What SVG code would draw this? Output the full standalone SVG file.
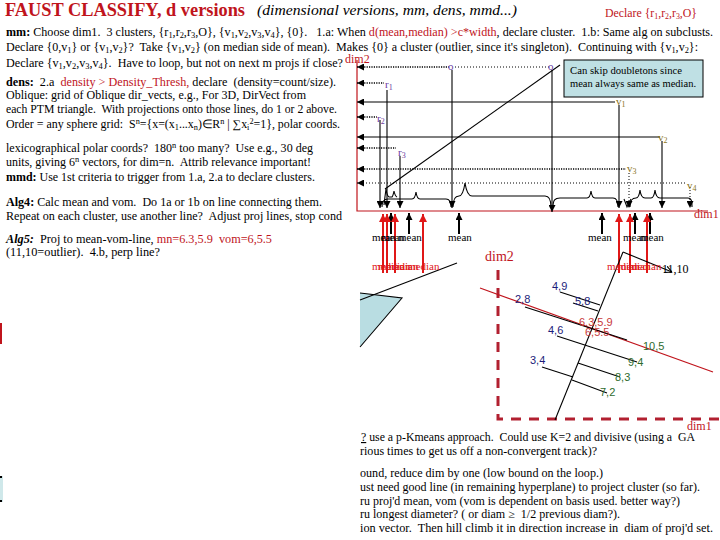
<svg xmlns="http://www.w3.org/2000/svg" width="720" height="540" viewBox="0 0 720 540">
<defs>
<style>
text{font-family:"Liberation Serif","Times New Roman",serif;white-space:pre}
.t{font-size:11.5px;fill:#000}
.r{fill:#c0141c}
.b{font-weight:bold}
.s{font-size:8px}
.pt{font-family:"Liberation Sans",Arial,sans-serif;font-size:11px}
.nv{fill:#1c1c7a}
.gr{fill:#2e6b2e}
.rd{fill:#c83a3a}
.pr{fill:#6a3aa0;font-size:11px}
.ol{fill:#8a7420;font-size:11px}
.ln{stroke:#000;fill:none;stroke-width:1.1}
.dot{stroke:#000;stroke-dasharray:1.2 1.2;stroke-width:1.6;fill:none}
.dot2{stroke:#000;stroke-dasharray:1 2;stroke-width:1;fill:none}
.red{stroke:#c0141c;fill:none;stroke-width:1.2}
.ra{stroke:#e01818;fill:none;stroke-width:2}
.ba{stroke:#000;fill:none;stroke-width:2}
.med{font-size:11px;fill:#e01818}
.mean{font-size:11px;fill:#000}
</style>
<marker id="ah" viewBox="0 0 10 10" refX="10" refY="5" markerWidth="7" markerHeight="7" orient="auto-start-reverse" markerUnits="userSpaceOnUse"><path d="M0,0L10,5L0,10z" fill="#000"/></marker>
<marker id="ahr" viewBox="0 0 10 10" refX="10" refY="5" markerWidth="8" markerHeight="8" orient="auto-start-reverse" markerUnits="userSpaceOnUse"><path d="M0,0L10,5L0,10z" fill="#e01818"/></marker>
<marker id="av" viewBox="0 0 10 10" refX="10" refY="5" markerWidth="7" markerHeight="7" orient="auto" markerUnits="userSpaceOnUse"><path d="M0,0L10,5L0,10" fill="none" stroke="#000" stroke-width="1.5"/></marker>
</defs>

<rect width="720" height="540" fill="#fff"/>

<g id="title">
<text x="5" y="16" font-size="19" font-weight="bold" fill="#c0141c" textLength="240" lengthAdjust="spacingAndGlyphs">FAUST CLASSIFY, d versions</text>
<text x="257" y="15" font-size="15" font-style="italic" fill="#000" textLength="260" lengthAdjust="spacingAndGlyphs">(dimensional versions, mm, dens, mmd...)</text>
<text x="605" y="17" font-size="12" fill="#c0141c" textLength="92" lengthAdjust="spacingAndGlyphs">Declare {r<tspan class="s" dy="2">1</tspan><tspan dy="-2">,r</tspan><tspan class="s" dy="2">2</tspan><tspan dy="-2">,r</tspan><tspan class="s" dy="2">3</tspan><tspan dy="-2">,O}</tspan></text>
</g>

<g id="notes-left">
<text class="t" x="6" y="36" textLength="707" lengthAdjust="spacingAndGlyphs"><tspan class="b">mm:</tspan> Choose dim1.  3 clusters, {r<tspan class="s" dy="2">1</tspan><tspan dy="-2">,r</tspan><tspan class="s" dy="2">2</tspan><tspan dy="-2">,r</tspan><tspan class="s" dy="2">3</tspan><tspan dy="-2">,O}, {v</tspan><tspan class="s" dy="2">1</tspan><tspan dy="-2">,v</tspan><tspan class="s" dy="2">2</tspan><tspan dy="-2">,v</tspan><tspan class="s" dy="2">3</tspan><tspan dy="-2">,v</tspan><tspan class="s" dy="2">4</tspan><tspan dy="-2">}, {0}.   1.a: When </tspan><tspan class="r">d(mean,median) &gt;c*width</tspan>, declare cluster.  1.b: Same alg on subclusts.</text>
<text class="t" x="6" y="51" textLength="692" lengthAdjust="spacingAndGlyphs">Declare {0,v<tspan class="s" dy="2">1</tspan><tspan dy="-2">} or {v</tspan><tspan class="s" dy="2">1</tspan><tspan dy="-2">,v</tspan><tspan class="s" dy="2">2</tspan><tspan dy="-2">}?  Take {v</tspan><tspan class="s" dy="2">1</tspan><tspan dy="-2">,v</tspan><tspan class="s" dy="2">2</tspan><tspan dy="-2">} (on median side of mean).  Makes {0} a cluster (outlier, since it's singleton).  Continuing with {v</tspan><tspan class="s" dy="2">1</tspan><tspan dy="-2">,v</tspan><tspan class="s" dy="2">2</tspan><tspan dy="-2">}:</tspan></text>
<text class="t" x="6" y="67" textLength="337" lengthAdjust="spacingAndGlyphs">Declare {v<tspan class="s" dy="2">1</tspan><tspan dy="-2">,v</tspan><tspan class="s" dy="2">2</tspan><tspan dy="-2">,v</tspan><tspan class="s" dy="2">3</tspan><tspan dy="-2">,v</tspan><tspan class="s" dy="2">4</tspan><tspan dy="-2">}.  Have to loop, but not on next m projs if close?</tspan></text>
<text class="t" x="6" y="86" textLength="330" lengthAdjust="spacingAndGlyphs"><tspan class="b">dens:</tspan>  2.a  <tspan class="r">density &gt; Density_Thresh,</tspan> declare  (density=count/size).</text>
<text class="t" x="6" y="99" textLength="300" lengthAdjust="spacingAndGlyphs">Oblique: grid of Oblique dir_vects, e.g., For 3D, DirVect from</text>
<text class="t" x="6" y="113" textLength="331" lengthAdjust="spacingAndGlyphs">each PTM triangle.  With projections onto those lines, do 1 or 2 above.</text>
<text class="t" x="6" y="128" textLength="334" lengthAdjust="spacingAndGlyphs">Order = any sphere grid:  S<tspan class="s" dy="-4">n</tspan><tspan dy="4">={x=(x</tspan><tspan class="s" dy="2">1</tspan><tspan dy="-2">...x</tspan><tspan class="s" dy="2">n</tspan><tspan dy="-2">)∈R</tspan><tspan class="s" dy="-4">n</tspan><tspan dy="4"> | ∑x</tspan><tspan class="s" dy="2">i</tspan><tspan class="s" dy="-6">2</tspan><tspan dy="4">=1}, polar coords.</tspan></text>
<text class="t" x="6" y="152" textLength="307" lengthAdjust="spacingAndGlyphs">lexicographical polar coords?  180<tspan class="s" dy="-4">n</tspan><tspan dy="4"> too many?  Use e.g., 30 deg</tspan></text>
<text class="t" x="6" y="166" textLength="305" lengthAdjust="spacingAndGlyphs">units, giving 6<tspan class="s" dy="-4">n</tspan><tspan dy="4"> vectors, for dim=n.  Attrib relevance important!</tspan></text>
<text class="t" x="6" y="181" textLength="309" lengthAdjust="spacingAndGlyphs"><tspan class="b">mmd:</tspan> Use 1st criteria to trigger from 1.a, 2.a to declare clusters.</text>
<text class="t" x="6" y="206" textLength="316" lengthAdjust="spacingAndGlyphs"><tspan class="b">Alg4:</tspan> Calc mean and vom.  Do 1a or 1b on line connecting them.</text>
<text class="t" x="6" y="220" textLength="336" lengthAdjust="spacingAndGlyphs">Repeat on each cluster, use another line?  Adjust proj lines, stop cond</text>
<text class="t" x="6" y="243" textLength="266" lengthAdjust="spacingAndGlyphs"><tspan class="b" font-style="italic">Alg5:</tspan>  Proj to mean-vom-line, <tspan class="r">mn=6.3,5.9  vom=6,5.5</tspan></text>
<text class="t" x="6" y="256" textLength="154" lengthAdjust="spacingAndGlyphs">(11,10=outlier).  4.b, perp line?</text>
</g>

<g id="notes-bottom">
<text class="t" x="361" y="441" textLength="334" lengthAdjust="spacingAndGlyphs"><tspan text-decoration="underline">?</tspan> use a p-Kmeans approach.  Could use K=2 and divisive (using a  GA</text>
<text class="t" x="360" y="455" textLength="237" lengthAdjust="spacingAndGlyphs">rious times to get us off a non-convergent track)?</text>
<text class="t" x="360" y="477" textLength="243" lengthAdjust="spacingAndGlyphs">ound, reduce dim by one (low bound on the loop.)</text>
<text class="t" x="360" y="491" textLength="340" lengthAdjust="spacingAndGlyphs">ust need good line (in remaining hyperplane) to project cluster (so far).</text>
<text class="t" x="360" y="505" textLength="320" lengthAdjust="spacingAndGlyphs">ru proj'd mean, vom (vom is dependent on basis used. better way?)</text>
<text class="t" x="360" y="518" textLength="260" lengthAdjust="spacingAndGlyphs">ru longest diameter? ( or diam ≥  1/2 previous diam?).</text>
<text class="t" x="360" y="532" textLength="353" lengthAdjust="spacingAndGlyphs">ion vector.  Then hill climb it in direction increase in  diam of proj'd set.</text>
</g>

<g id="edge-marks">
<rect x="0" y="323" width="2" height="21" fill="#c0141c"/>
<rect x="0" y="476" width="3" height="26" fill="#cfe8ea"/>
<rect x="0" y="476" width="2" height="2" fill="#000"/>
<rect x="0" y="500" width="2" height="2" fill="#000"/>
</g>

<g id="connectors">
<path class="red" d="M357,60 V211 H708"/>
<path class="dot" d="M357,67 H449" marker-start="url(#ah)"/>
<path class="dot2" d="M455,67 H550"/>
<path class="dot" d="M357,83 H384" marker-start="url(#ah)"/>
<path class="ln" stroke-width="2.5" d="M357,102 H615" marker-start="url(#ah)"/>
<path class="dot" d="M357,117 H377" marker-start="url(#ah)"/>
<path class="ln" stroke-width="1.5" d="M357,137 H660" marker-start="url(#ah)"/>
<path class="dot" d="M357,148 H396" marker-start="url(#ah)"/>
<path class="dot" d="M357,169 H626" marker-start="url(#ah)"/>
<path class="dot2" d="M357,183 H685" marker-start="url(#ah)"/>
<path class="ln" stroke-width="2.5" d="M380,120 V208" marker-end="url(#ah)"/>
<path class="ln" d="M387,90 V208" marker-end="url(#ah)"/>
<path class="ln" stroke-width="2.5" d="M400,156 V208" marker-end="url(#ah)"/>
<path class="ln" d="M452,70 V208" marker-end="url(#ah)"/>
<path class="ln" stroke-width="3" d="M552,70 V212" marker-end="url(#ah)"/>
<path class="ln" d="M619,105 V208" marker-end="url(#ah)"/>
<path class="dot2" stroke-width="1.2" d="M629,173 V208" marker-end="url(#ah)"/>
<path class="ln" d="M662,141 V208" marker-end="url(#ah)"/>
<path class="dot2" stroke-width="1.2" d="M690,187 V208" marker-end="url(#ah)"/>
<path class="ln" stroke-width="0.9" d="M560,65 L385,189"/>
<path class="ln" d="M382,207 C382,201 384,199 388,199 L412,199 Q415,199 416,192 Q417,199 420,199 L446,199 C449,199 451,201 451,207"/>
<path class="ln" d="M384,205 Q385,196 386,189 Q387,196 389,197 L392,197 Q393,196 394,191 Q395,196 397,197"/>
<path class="ln" d="M453,207 C453,199 455,196 459,196 Q463,196 465,183 Q467,196 472,196 L545,196 C549,196 551,199 551,207"/>
<path class="ln" d="M553,207 C553,200 555,198 560,198 L587,198 Q590,198 591,191 Q592,198 595,198 L613,198 C616,198 618,200 618,207"/>
<path class="ln" d="M624,199 L627,207 L631,199"/>
<path class="ln" d="M630,207 C630,200 632,198 636,198 Q639,198 640,190 Q641,198 645,198 L651,198 Q654,198 655,190 Q656,198 660,198 L688,198 C691,198 692,200 692,207"/>
<path class="ba" d="M391,234 V213" marker-end="url(#ah)"/>
<path class="ba" d="M409,234 V213" marker-end="url(#ah)"/>
<path class="ba" d="M459,234 V213" marker-end="url(#ah)"/>
<path class="ba" d="M602,234 V213" marker-end="url(#ah)"/>
<path class="ba" d="M635,234 V213" marker-end="url(#ah)"/>
<path class="ba" d="M650,234 V213" marker-end="url(#ah)"/>
<path class="ra" d="M383,273 V214" marker-end="url(#ahr)"/>
<path class="ra" d="M387,273 V214" marker-end="url(#ahr)"/>
<path class="ra" d="M395,273 V214" marker-end="url(#ahr)"/>
<path class="ra" d="M423,273 V214" marker-end="url(#ahr)"/>
<path class="ra" d="M619,273 V214" marker-end="url(#ahr)"/>
<path class="ra" d="M630,273 V214" marker-end="url(#ahr)"/>
<path class="ra" d="M647,273 V214" marker-end="url(#ahr)"/>

<path d="M498,270 V419 H720" fill="none" stroke="#b22030" stroke-width="3" stroke-dasharray="10 8"/>
<polygon points="360,293 402,298 360,347" fill="#b9dde2"/>
<path class="ln" d="M360,293 L402,298 L360,347"/>
<path class="ln" d="M360,300 L457,263"/>
<path class="red" d="M480,288 L713,372"/>
<path class="ln" d="M555,420 L623,252"/>
<path class="ln" d="M623,252 L672,272" marker-end="url(#av)"/>
<path class="ln" d="M560,292 L600,305"/>
<path class="ln" d="M573,303 L598,311"/>
<path class="ln" d="M525,307 L627,340"/>
<path class="ln" d="M557,336 L637,362"/>
<path class="ln" d="M578,363 L620,377"/>
<path class="ln" d="M542,367 L573,377"/>
<path class="ln" d="M572,380 L607,393"/>
</g>

<g id="callout">
<rect x="564" y="60" width="139" height="37" fill="#bfe0e4" stroke="#000" stroke-width="1"/>
<text x="570" y="74" font-size="10.5" fill="#000" textLength="112" lengthAdjust="spacingAndGlyphs">Can skip doubletons since</text>
<text x="570" y="87" font-size="10.5" fill="#000" textLength="126" lengthAdjust="spacingAndGlyphs">mean always same as median.</text>
</g>

<g id="labels-1d">
<text x="345" y="63" font-size="12" fill="#c0141c">dim2</text>
<text x="694" y="218" font-size="12" fill="#c0141c">dim1</text>
<text class="pr" x="448" y="70">o</text>
<text class="pr" x="548" y="70">o</text>
<text class="pr" x="385" y="88">r<tspan class="s" dy="2">1</tspan></text>
<text class="pr" x="377" y="122">r<tspan class="s" dy="2">2</tspan></text>
<text class="pr" x="398" y="156">r<tspan class="s" dy="2">3</tspan></text>
<text class="ol" x="616" y="105">v<tspan class="s" dy="2">1</tspan></text>
<text class="ol" x="658" y="141">v<tspan class="s" dy="2">2</tspan></text>
<text class="ol" x="627" y="172">v<tspan class="s" dy="2">3</tspan></text>
<text class="ol" x="687" y="189">v<tspan class="s" dy="2">4</tspan></text>
<text class="mean" x="372" y="241">mean</text>
<text class="mean" x="381" y="241">mean</text>
<text class="mean" x="398" y="241">mean</text>
<text class="mean" x="448" y="241">mean</text>
<text class="mean" x="588" y="241">mean</text>
<text class="mean" x="623" y="241">mean</text>
<text class="mean" x="640" y="241">mean</text>
<text class="med" x="372" y="270">median</text>
<text class="med" x="378" y="270">median</text>
<text class="med" x="386" y="270">median</text>
<text class="med" x="407" y="270">median</text>
<text class="med" x="607" y="270">median</text>
<text class="med" x="618" y="270">median</text>
<text class="med" x="629" y="270">median</text>
<text x="662" y="273" font-size="12" fill="#000">11,10</text>
</g>

<g id="labels-2d">
<text x="485" y="261" font-size="14" fill="#c0141c">dim2</text>
<text x="687" y="430" font-size="12" fill="#c0141c">dim1</text>
<text class="pt nv" x="552" y="290">4,9</text>
<text class="pt nv" x="575" y="305">5,8</text>
<text class="pt nv" x="515" y="303">2,8</text>
<text class="pt nv" x="548" y="334">4,6</text>
<text class="pt nv" x="530" y="364">3,4</text>
<text class="pt rd" x="579" y="326">6.3,5.9</text>
<text class="pt rd" x="585" y="336">6,5.5</text>
<text class="pt gr" x="643" y="350">10,5</text>
<text class="pt gr" x="628" y="366">9,4</text>
<text class="pt gr" x="615" y="381">8,3</text>
<text class="pt gr" x="600" y="396">7,2</text>
</g>
</svg>
